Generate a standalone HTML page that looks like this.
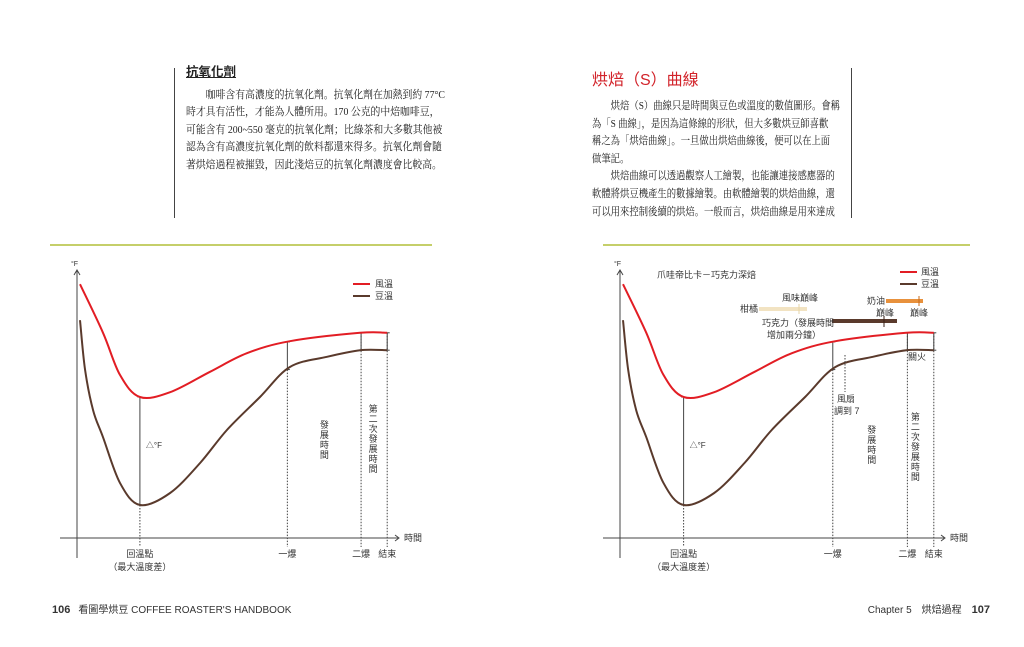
<!DOCTYPE html>
<html><head><meta charset="utf-8">
<style>
html,body{margin:0;padding:0;background:#fff;}
body{width:1024px;height:647px;position:relative;overflow:hidden;font-family:"Liberation Sans","Noto Sans CJK TC",sans-serif;color:#222;}
.blk{position:absolute;font-family:"Liberation Serif","Noto Serif CJK SC",serif;font-size:11px;line-height:17.6px;color:#222;}
.blk .ln{white-space:nowrap;transform-origin:0 50%;width:max-content;}
.vline{position:absolute;width:1px;background:#444;}
.green{position:absolute;height:2px;background:#c5cf6a;}
svg{position:absolute;left:0;top:0;}
.ft{position:absolute;top:601px;font-size:10px;color:#333;white-space:nowrap;}
</style></head><body>
<div class="vline" style="left:174px;top:68px;height:150px"></div>
<div class="vline" style="left:851px;top:68px;height:150px"></div>
<div class="blk" style="left:186px;top:64px;width:262px" data-w="259">
 <div style="font-family:'Liberation Sans','Noto Sans CJK TC',sans-serif;font-weight:bold;font-size:12.5px;text-decoration:underline;margin-bottom:5px">抗氧化劑</div>
 <div>
 <div class="ln">　　咖啡含有高濃度的抗氧化劑。抗氧化劑在加熱到約 77°C</div>
 <div class="ln">時才具有活性，才能為人體所用。170 公克的中焙咖啡豆，</div>
 <div class="ln">可能含有 200~550 毫克的抗氧化劑；比綠茶和大多數其他被</div>
 <div class="ln">認為含有高濃度抗氧化劑的飲料都還來得多。抗氧化劑會隨</div>
 <div class="ln">著烘焙過程被摧毀，因此淺焙豆的抗氧化劑濃度會比較高。</div>
 </div>
</div>
<div class="blk" style="left:592px;top:70px;width:255px" data-w="248">
 <div style="font-family:'Liberation Sans','Noto Sans CJK TC',sans-serif;color:#d2232a;font-size:16px;line-height:22px;margin-bottom:6px">烘焙（S）曲線</div>
 <div>
 <div class="ln">　　烘焙（S）曲線只是時間與豆色或溫度的數值圖形。會稱</div>
 <div class="ln">為「S 曲線」，是因為這條線的形狀，但大多數烘豆師喜歡</div>
 <div class="ln">稱之為「烘焙曲線」。一旦做出烘焙曲線後，便可以在上面</div>
 <div class="ln">做筆記。</div>
 <div class="ln">　　烘焙曲線可以透過觀察人工繪製，也能讓連接感應器的</div>
 <div class="ln">軟體將烘豆機產生的數據繪製。由軟體繪製的烘焙曲線，還</div>
 <div class="ln">可以用來控制後續的烘焙。一般而言，烘焙曲線是用來達成</div>
 </div>
</div>
<div class="green" style="left:50px;top:244px;width:382px"></div>
<div class="green" style="left:603px;top:244px;width:367px"></div>
<svg id="charts" width="1024" height="647" font-family="Liberation Sans, Noto Sans CJK TC, sans-serif"></svg>
<div class="ft" style="left:52px"><b style="font-size:11px;margin-right:8px">106</b>看圖學烘豆 COFFEE ROASTER'S HANDBOOK</div>
<div class="ft" style="right:34px">Chapter 5　烘焙過程　<b style="font-size:11px">107</b></div>
<script>
// fit text lines
document.querySelectorAll('.blk').forEach(b=>{
 const target=+b.getAttribute('data-w');const lines=[...b.querySelectorAll('.ln')];
 let mx=0;lines.forEach(l=>{mx=Math.max(mx,l.getBoundingClientRect().width);});
 const s=target/mx;lines.forEach(l=>{l.style.transform='scaleX('+s+')';});
});

// data (time in minutes, temperature in °F-ish units)
const airTimes = [0,0.9,1.56,2.34,3.52,5.08,6.52,8.2,10.94,12];
const airTemps = [423,342,272,235,243,277,308,328,342,342];
const beanTimes = [0,0.2,0.51,0.9,1.56,2.34,3.52,4.69,5.74,7.03,8.2,9.65,10.94,12];
const beanTemps = [363,280,213,168,92,55,75,125,180,235,285,302,313,313];
const eventTimes = [2.34,8.1,10.98,12];
const eventLabels = ["回溫點","一爆","二爆","結束"];
const seriesNames = ["風溫","豆溫"];

const NS="http://www.w3.org/2000/svg";
const svg=document.getElementById('charts');
function mk(tag,attrs,parent,name){const e=document.createElementNS(NS,tag);for(const k in attrs)e.setAttribute(k,attrs[k]);
 
 
 (parent||svg).appendChild(e);return e;}
function txt(x,y,s,parent,name,opts){const t=mk('text',Object.assign({x:x,y:y,'font-size':9,fill:'#333'},opts||{}),parent,name);t.textContent=s;return t;}
function interp(ts,vs,t){for(let i=0;i<ts.length-1;i++){if(t>=ts[i]&&t<=ts[i+1]){const f=(t-ts[i])/(ts[i+1]-ts[i]);return vs[i]+f*(vs[i+1]-vs[i]);}}return vs[vs.length-1];}
function spline(pts){let d='M'+pts[0][0]+','+pts[0][1];for(let i=0;i<pts.length-1;i++){const p0=pts[Math.max(0,i-1)],p1=pts[i],p2=pts[i+1],p3=pts[Math.min(pts.length-1,i+2)];
 const c1=[p1[0]+(p2[0]-p0[0])/6,p1[1]+(p2[1]-p0[1])/6],c2=[p2[0]-(p3[0]-p1[0])/6,p2[1]-(p3[1]-p1[1])/6];
 d+=' C'+c1[0].toFixed(1)+','+c1[1].toFixed(1)+' '+c2[0].toFixed(1)+','+c2[1].toFixed(1)+' '+p2[0].toFixed(1)+','+p2[1].toFixed(1);}return d;}
function vtext(x,y,s,g,name){const t=mk('text',{x:x,y:y,'font-size':9,fill:'#333','text-anchor':'middle'},g,name);
 for(let i=0;i<s.length;i++){const ts=mk('tspan',{x:x,dy:i?10:0},t,'vertical-char');ts.textContent=s[i];}return t;}

function chart(x0,xs,yAxisX,axisEnd,name,right){
 const g=mk('g',{},svg,name);
 const X=t=>x0+t*xs, Y=v=>538-v*0.6;
 mk('line',{x1:yAxisX,y1:271,x2:yAxisX,y2:558,stroke:'#444','stroke-width':1},g,'y-axis');
 mk('path',{d:`M${yAxisX-3},275 L${yAxisX},270 L${yAxisX+3},275`,fill:'none',stroke:'#444'},g,'y-axis-arrow');
 txt(yAxisX-6,266,'°F',g,'y-axis-title',{'font-size':7});
 mk('line',{x1:yAxisX-17,y1:538,x2:axisEnd,y2:538,stroke:'#444'},g,'x-axis');
 mk('path',{d:`M${axisEnd-3},535 L${axisEnd+1},538 L${axisEnd-3},541`,fill:'none',stroke:'#444'},g,'x-axis-arrow');
 txt(axisEnd+6,541,'時間',g,'x-axis-title');
 eventTimes.forEach((t,i)=>{const x=X(t),ya=Y(interp(airTimes,airTemps,t)),yb=Y(interp(beanTimes,beanTemps,t));
  mk('line',{x1:x,y1:ya,x2:x,y2:yb,stroke:'#444','stroke-width':1},g,'delta-line');
  mk('line',{x1:x-2.5,y1:ya,x2:x+2.5,y2:ya,stroke:'#444'},g,'delta-cap');
  mk('line',{x1:x-2.5,y1:yb,x2:x+2.5,y2:yb,stroke:'#444'},g,'delta-cap');
  mk('line',{x1:x,y1:(i>=2?ya:yb),x2:x,y2:547,stroke:'#444','stroke-dasharray':'1.5,1.5'},g,'event-dotted-line');
  txt(x,557,eventLabels[i],g,'event-label',{'text-anchor':'middle'});
 });
 txt(X(eventTimes[0]),570,'（最大溫度差）',g,'event-sublabel',{'text-anchor':'middle'});
 txt(X(eventTimes[0])+6,448,'△°F',g,'delta-label',{'font-size':8});
 vtext(X(eventTimes[1])+(right?39:37),(right?433:428),'發展時間',g,'development-time-label');
 vtext(X(eventTimes[2])+(right?8:12),(right?420:412),'第二次發展時間',g,'second-development-label');
 mk('path',{d:spline(beanTimes.map((t,i)=>[X(t),Y(beanTemps[i])])),fill:'none',stroke:'#5a3a2c','stroke-width':2},g,'bean-temp-line');
 mk('path',{d:spline(airTimes.map((t,i)=>[X(t),Y(airTemps[i])])),fill:'none',stroke:'#e21d24','stroke-width':2},g,'air-temp-line');
 return {g,X,Y};
}
const L=chart(80,25.6,77,398,'left-chart',false);
mk('line',{x1:353,y1:284,x2:370,y2:284,stroke:'#e21d24','stroke-width':2},L.g,'legend-air-swatch');
txt(375,287,seriesNames[0],L.g,'legend-air-label');
mk('line',{x1:353,y1:296,x2:370,y2:296,stroke:'#5a3a2c','stroke-width':2},L.g,'legend-bean-swatch');
txt(375,299,seriesNames[1],L.g,'legend-bean-label');

const R=chart(623,25.9,620,944,'right-chart',true);
mk('line',{x1:900,y1:272,x2:917,y2:272,stroke:'#e21d24','stroke-width':2},R.g,'legend-air-swatch');
txt(921,275,seriesNames[0],R.g,'legend-air-label');
mk('line',{x1:900,y1:284,x2:917,y2:284,stroke:'#5a3a2c','stroke-width':2},R.g,'legend-bean-swatch');
txt(921,287,seriesNames[1],R.g,'legend-bean-label');
txt(657,278,'爪哇帝比卡－巧克力深焙',R.g,'right-chart-title');
mk('line',{x1:759,y1:309,x2:807,y2:309,stroke:'#f2e3c2','stroke-width':4},R.g,'citrus-bar');
mk('line',{x1:799,y1:304,x2:799,y2:314,stroke:'#e6d4a8'},R.g,'citrus-peak-tick');
txt(740,312,'柑橘',R.g,'citrus-label');
txt(782,301,'風味巔峰',R.g,'flavor-peak-label');
mk('line',{x1:886,y1:301,x2:923,y2:301,stroke:'#e8913c','stroke-width':4},R.g,'butter-bar');
mk('line',{x1:919,y1:296,x2:919,y2:306,stroke:'#c86a1a'},R.g,'butter-peak-tick');
txt(867,304,'奶油',R.g,'butter-label');
txt(876,316,'巔峰',R.g,'chocolate-peak-label');
txt(910,316,'巔峰',R.g,'butter-peak-label');
mk('line',{x1:832,y1:321,x2:897,y2:321,stroke:'#5a3a2c','stroke-width':4},R.g,'chocolate-bar');
mk('line',{x1:884,y1:316,x2:884,y2:327,stroke:'#3a2218'},R.g,'chocolate-peak-tick');
txt(762,326,'巧克力（發展時間',R.g,'chocolate-label');
txt(767,338,'增加兩分鐘）',R.g,'chocolate-label-2');
mk('line',{x1:845,y1:355,x2:845,y2:392,stroke:'#444','stroke-dasharray':'1.5,1.5'},R.g,'fan-dotted-line');
txt(837,402,'風扇',R.g,'fan-label');
txt(834,414,'調到 7',R.g,'fan-label-2');
txt(908,360,'關火',R.g,'heat-off-label');
</script>
</body></html>
